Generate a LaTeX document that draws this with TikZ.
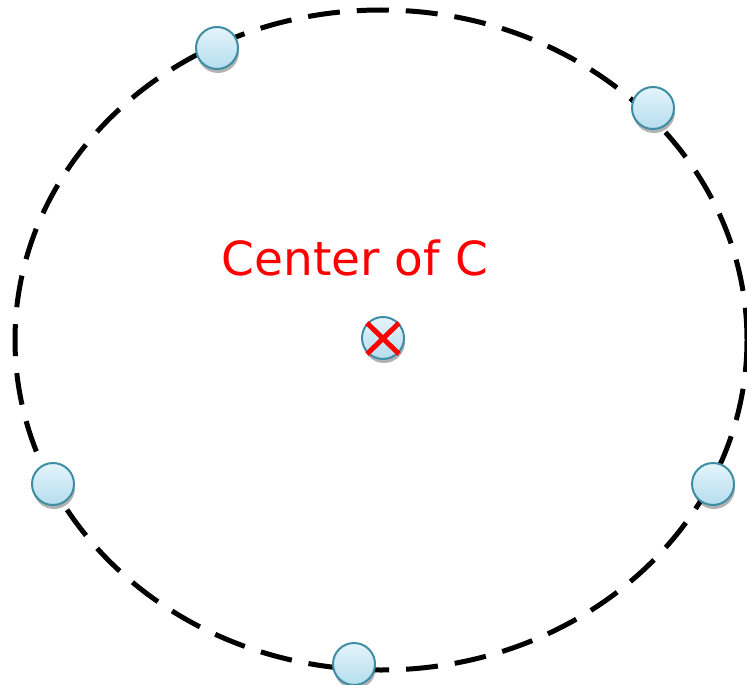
\documentclass[tikz,border=0pt]{standalone}
\usepackage{fontspec}
\setmainfont{DejaVu Sans}
\usetikzlibrary{shadows}
\definecolor{nodefillA}{HTML}{E4F4FB}
\definecolor{nodefillB}{HTML}{B5DDEE}
\definecolor{nodeedge}{HTML}{3F8DA3}
\tikzset{
  pt/.style={circle, minimum size=42pt, inner sep=0pt, draw=nodeedge, line width=2pt,
    top color=nodefillA, bottom color=nodefillB,
    drop shadow={shadow xshift=1pt, shadow yshift=-4pt, opacity=0.3, fill=black}},
  orbit/.style={draw=black, line width=5pt, dash pattern=on 32pt off 17pt},
  cross/.style={draw=red, line width=5pt},
  lbl/.style={text=red, font=\fontsize{47}{53}\selectfont}
}
\begin{document}
\begin{tikzpicture}[x=1pt,y=-1pt]
\useasboundingbox (0,0) rectangle (747,685);
\begin{scope}
\clip (0,0) rectangle (747,685);
\draw[orbit] (381,340) ellipse [x radius=366, y radius=330];
\end{scope}
\node[pt] (p1) at (217,48) {};
\node[pt] (p2) at (653,108) {};
\node[pt] (p3) at (53,484) {};
\node[pt] (p4) at (713,484) {};
\node[pt] (p5) at (354,664) {};
\node[pt] (c) at (383,338) {};
\draw[cross] ([shift={(-16,-15)}]c.center) -- ([shift={(16,16)}]c.center);
\draw[cross] ([shift={(16,-15)}]c.center) -- ([shift={(-16,16)}]c.center);
\node[lbl] (t) at (355,258) {Center of C};
\end{tikzpicture}
\end{document}
